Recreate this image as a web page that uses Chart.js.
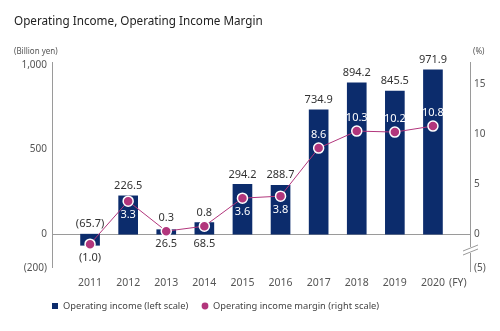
<!DOCTYPE html>
<html>
<head>
<meta charset="utf-8">
<script src="https://cdn.jsdelivr.net/npm/chart.js@4.4.1/dist/chart.umd.min.js"></script>
<style>
  html, body { margin: 0; padding: 0; background: #fff; }
  #wrap { width: 500px; height: 331px; position: relative; }
</style>
</head>
<body>
<div id="wrap"><canvas id="incomeChart"></canvas></div>
<script>
const years = ['2011', '2012', '2013', '2014', '2015', '2016', '2017', '2018', '2019', '2020'];
const operatingIncome = [-65.7, 226.5, 26.5, 68.5, 294.2, 288.7, 734.9, 894.2, 845.5, 971.9];
const incomeMargin = [-1.0, 3.3, 0.3, 0.8, 3.6, 3.8, 8.6, 10.3, 10.2, 10.8];
const leftTicks = [-200, 0, 500, 1000];
const rightTicks = [-5, 0, 5, 10, 15];

const NAVY = '#0c2c6c';
const MAGENTA = '#b2367c';
const FONT = "'Noto Sans', sans-serif";

// where each value label sits
const incomeLabelPos = ['top', 'top', 'under', 'under', 'top', 'top', 'top', 'top', 'top', 'top'];
const marginLabelPos = ['below', 'below', 'above', 'above', 'below', 'below', 'above', 'above', 'above', 'above'];

function paren(v, digits) {
    const s = Math.abs(v).toLocaleString('en-US', { minimumFractionDigits: digits, maximumFractionDigits: digits });
    return v < 0 ? '(' + s + ')' : s;
}

const decorPlugin = {
    id: 'decor',
    beforeDatasetsDraw(chart) {
        const ctx = chart.ctx;
        const y0 = Math.round(chart.scales.y.getPixelForValue(0)) + 0.5;
        ctx.save();
        ctx.strokeStyle = '#9a9a9a';
        ctx.lineWidth = 1;
        ctx.beginPath();
        ctx.moveTo(52, y0);
        ctx.lineTo(471, y0);
        // left axis
        ctx.moveTo(52.5, 62);
        ctx.lineTo(52.5, 268);
        // right axis with a break
        ctx.moveTo(470.5, 62);
        ctx.lineTo(470.5, 247);
        ctx.moveTo(470.5, 253);
        ctx.lineTo(470.5, 272);
        ctx.stroke();
        ctx.beginPath();
        ctx.moveTo(463, 251); ctx.lineTo(478, 245);
        ctx.moveTo(463, 255); ctx.lineTo(478, 249);
        ctx.stroke();
        ctx.restore();
    },
    afterDraw(chart) {
        const ctx = chart.ctx;
        ctx.save();
        ctx.textBaseline = 'middle';

        ctx.fillStyle = '#222';
        ctx.font = '11.7px ' + FONT;
        ctx.textAlign = 'left';
        ctx.fillText('Operating Income, Operating Income Margin', 14, 22);

        ctx.fillStyle = '#555';
        ctx.font = '8px ' + FONT;
        ctx.fillText('(Billion yen)', 14, 52);
        ctx.fillText('(%)', 473, 52);

        ctx.font = '10.5px ' + FONT;
        ctx.fillText('(FY)', 449, 283);

        // value labels
        ctx.textAlign = 'center';
        ctx.font = '11px ' + FONT;
        const bars = chart.getDatasetMeta(0).data;
        const points = chart.getDatasetMeta(1).data;
        bars.forEach((bar, i) => {
            const top = Math.min(bar.y, bar.base);
            const bottom = Math.max(bar.y, bar.base);
            const ly = incomeLabelPos[i] === 'top' ? top - 10 : bottom + 10;
            ctx.fillStyle = '#333';
            ctx.fillText(paren(operatingIncome[i], 1), bar.x, ly);
        });
        points.forEach((pt, i) => {
            const ly = marginLabelPos[i] === 'above' ? pt.y - 13 : pt.y + 14;
            const bar = bars[i];
            const inside = ly > Math.min(bar.y, bar.base) && ly < Math.max(bar.y, bar.base);
            ctx.fillStyle = inside ? '#ffffff' : '#333';
            ctx.fillText(paren(incomeMargin[i], 1), pt.x, ly);
        });

        // legend
        ctx.textAlign = 'left';
        ctx.font = '9.3px ' + FONT;
        ctx.fillStyle = NAVY;
        ctx.fillRect(52, 303, 6, 6);
        ctx.fillStyle = '#444';
        ctx.fillText('Operating income (left scale)', 63, 306);
        ctx.fillStyle = MAGENTA;
        ctx.beginPath();
        ctx.arc(205, 306, 3.4, 0, Math.PI * 2);
        ctx.fill();
        ctx.fillStyle = '#444';
        ctx.fillText('Operating income margin (right scale)', 213, 306);
        ctx.restore();
    }
};

const ctx = document.getElementById('incomeChart').getContext('2d');
new Chart(ctx, {
    type: 'bar',
    data: {
        labels: years,
        datasets: [{
            label: 'Operating income (left scale)',
            data: operatingIncome,
            backgroundColor: NAVY,
            barThickness: 19,
            yAxisID: 'y',
            order: 1
        }, {
            type: 'line',
            label: 'Operating income margin (right scale)',
            data: incomeMargin,
            borderColor: MAGENTA,
            borderWidth: 1,
            pointBackgroundColor: MAGENTA,
            pointBorderColor: '#ffffff',
            pointBorderWidth: 1.5,
            pointRadius: 5,
            yAxisID: 'y1',
            order: 0
        }]
    },
    options: {
        responsive: true,
        maintainAspectRatio: false,
        animation: false,
        layout: { padding: { top: 65, bottom: 0, left: 0, right: 0 } },
        plugins: {
            legend: { display: false },
            title: { display: false },
            tooltip: { enabled: false }
        },
        scales: {
            x: {
                grid: { display: false, drawTicks: false },
                border: { display: false },
                ticks: { color: '#555', font: { family: FONT, size: 10.5 }, padding: 9 },
                afterFit(scale) { scale.height = 63; }
            },
            y: {
                position: 'left',
                min: -200,
                max: 1000,
                grid: { display: false, drawTicks: false },
                border: { display: false },
                afterBuildTicks(scale) { scale.ticks = leftTicks.map(v => ({ value: v })); },
                ticks: {
                    color: '#555',
                    font: { family: FONT, size: 10 },
                    padding: 24,
                    callback: v => paren(v, 0)
                },
                afterFit(scale) { scale.width = 71; }
            },
            y1: {
                position: 'right',
                min: -3.38,
                max: 16.9,
                grid: { display: false, drawTicks: false },
                border: { display: false },
                afterBuildTicks(scale) {
                    // the bottom tick sits on the axis break
                    scale.ticks = rightTicks.map(v => ({ value: v < 0 ? scale.min : v }));
                },
                ticks: {
                    color: '#555',
                    font: { family: FONT, size: 10 },
                    padding: 22,
                    callback: (v, i) => paren(rightTicks[i], 0)
                },
                afterFit(scale) { scale.width = 48; }
            }
        }
    },
    plugins: [decorPlugin]
});
</script>
</body>
</html>
